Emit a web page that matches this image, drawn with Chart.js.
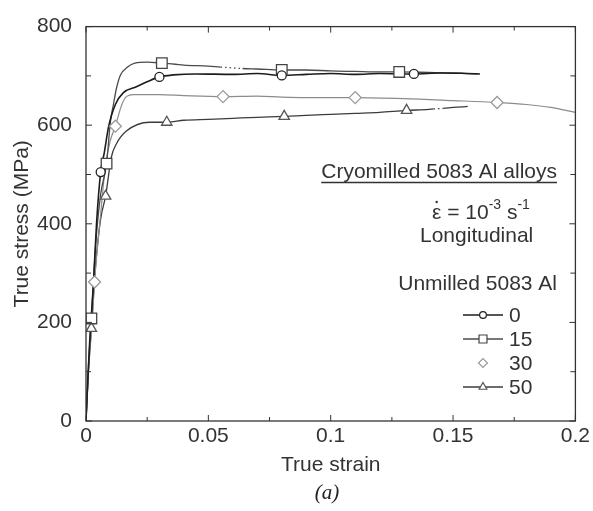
<!DOCTYPE html>
<html><head><meta charset="utf-8">
<script src="https://cdn.jsdelivr.net/npm/chart.js@4/dist/chart.umd.min.js"></script>
<style>html,body{margin:0;padding:0;background:#fff}#wrap{width:593px;height:511px;position:relative}</style>
</head><body><div id="wrap"><canvas id="c" width="593" height="511"></canvas></div>
<script>
// ---- tick values ----
const xTicks = [0, 0.05, 0.1, 0.15, 0.2];
const xMinor = [0.025, 0.075, 0.125, 0.175];
const yTicks = [0, 200, 400, 600, 800];
const yMinor = [100, 300, 500, 700];

// ---- series names (legend) ----
const seriesNames = ['0', '15', '30', '50'];
const legendTitle = 'Unmilled 5083 Al';

// ---- curve data: true strain / true stress (MPa) ----
const strain0 = [0, 0.0008, 0.0015, 0.002, 0.003, 0.0043, 0.006, 0.0075, 0.0092, 0.012, 0.0153, 0.0206, 0.025, 0.030, 0.0357, 0.045, 0.06, 0.07, 0.08, 0.09, 0.1, 0.11, 0.12, 0.134, 0.145, 0.155, 0.161];
const stress0 = [0, 90, 160, 200, 276, 400, 505, 545, 596, 642, 666, 678, 688, 698, 702, 704, 703, 705, 701, 703, 705, 703, 705, 704, 706, 705, 704];

const strain15 = [0, 0.001, 0.0022, 0.004, 0.006, 0.0084, 0.010, 0.0112, 0.0125, 0.0141, 0.017, 0.020, 0.025, 0.031, 0.040, 0.050, 0.055, 0.064, 0.070, 0.080, 0.090, 0.100, 0.110, 0.120, 0.128, 0.140, 0.150, 0.160];
const stress15 = [0, 110, 208, 360, 460, 522, 608, 642, 676, 702, 718, 726, 728, 726, 722, 720, 718, 715, 714, 712, 712, 710, 709, 708, 708, 707, 706, 704];
const dashed15 = [0.055, 0.064];

const strain30 = [0, 0.001, 0.0025, 0.0035, 0.006, 0.008, 0.010, 0.012, 0.0145, 0.0165, 0.0194, 0.030, 0.040, 0.056, 0.070, 0.080, 0.090, 0.110, 0.130, 0.150, 0.168, 0.180, 0.190, 0.200];
const stress30 = [0, 100, 200, 282, 420, 520, 570, 598, 640, 658, 662, 662, 660, 658, 659, 657, 656, 656, 654, 650, 646, 642, 636, 626];

const strain50 = [0, 0.001, 0.0022, 0.004, 0.006, 0.008, 0.0104, 0.0124, 0.0165, 0.026, 0.033, 0.040, 0.050, 0.060, 0.070, 0.081, 0.090, 0.100, 0.110, 0.120, 0.131, 0.140, 0.142, 0.146, 0.150, 0.156];
const stress50 = [0, 100, 188, 320, 410, 456, 536, 562, 588, 606, 606, 610, 612, 614, 616, 618, 620, 622, 624, 626, 630, 632, 633, 634, 636, 638];
const dashed50 = [0.142, 0.146];

// ---- marker positions ----
const mark0x = [0.006, 0.030, 0.080, 0.134];
const mark0y = [505, 698, 701, 704];
const mark15x = [0.0022, 0.0084, 0.031, 0.080, 0.128];
const mark15y = [208, 522, 726, 712, 708];
const mark30x = [0.0035, 0.012, 0.056, 0.110, 0.168];
const mark30y = [282, 598, 658, 656, 646];
const mark50x = [0.0022, 0.008, 0.033, 0.081, 0.131];
const mark50y = [188, 456, 606, 618, 630];

// ---- styling ----
const lineColors = ['#1c1c1c', '#4a4a4a', '#8c8c8c', '#3c3c3c'];
const markColors = ['#222222', '#444444', '#9a9a9a', '#555555'];
const markStyles = ['circle', 'rect', 'rectRot', 'triangle'];
const markRadii = [4.5, 7.5, 6, 6];
const lineWidths = [1.6, 1.3, 1.2, 1.3];
const legendShowLine = [true, true, false, true];
const dashRanges = [null, dashed15, null, dashed50];

const curves = [[strain0, stress0], [strain15, stress15], [strain30, stress30], [strain50, stress50]];
const marks = [[mark0x, mark0y], [mark15x, mark15y], [mark30x, mark30y], [mark50x, mark50y]];
const zip = (xs, ys) => xs.map((x, i) => ({x: x, y: ys[i]}));

const datasets = [];
curves.forEach((c, i) => {
  const dr = dashRanges[i];
  datasets.push({
    label: seriesNames[i], data: zip(c[0], c[1]), showLine: true,
    borderColor: lineColors[i], borderWidth: lineWidths[i], pointRadius: 0, tension: 0.25,
    cubicInterpolationMode: 'monotone', order: 2,
    segment: {
      borderDash: sc => (dr && sc.p0.parsed.x >= dr[0] - 1e-9 && sc.p1.parsed.x <= dr[1] + 1e-9) ? [1.5, 3] : undefined
    }
  });
});
marks.forEach((m, i) => {
  datasets.push({
    label: seriesNames[i] + ' markers', data: zip(m[0], m[1]), showLine: false,
    pointStyle: markStyles[i], pointRadius: markRadii[i], pointBorderColor: markColors[i],
    pointBackgroundColor: '#ffffff', pointBorderWidth: 1.3, order: 1
  });
});

const FONT = 'Liberation Sans, Arial, sans-serif';
const TXT = '#333333';

const decorations = {
  id: 'decorations',
  afterDraw(chart) {
    const {ctx, chartArea: a, scales: {x, y}} = chart;
    ctx.save();
    // frame
    ctx.strokeStyle = '#333';
    ctx.lineWidth = 1.3;
    ctx.strokeRect(a.left, a.top, a.right - a.left, a.bottom - a.top);
    // inward ticks
    const tick = (vals, len) => {
      vals.forEach(v => {
        const px = x.getPixelForValue(v);
        ctx.beginPath();
        ctx.moveTo(px, a.bottom); ctx.lineTo(px, a.bottom - len);
        ctx.moveTo(px, a.top); ctx.lineTo(px, a.top + len);
        ctx.stroke();
      });
    };
    const ytick = (vals, len) => {
      vals.forEach(v => {
        const py = y.getPixelForValue(v);
        ctx.beginPath();
        ctx.moveTo(a.left, py); ctx.lineTo(a.left + len, py);
        ctx.moveTo(a.right, py); ctx.lineTo(a.right - len, py);
        ctx.stroke();
      });
    };
    ctx.lineWidth = 1;
    tick(xTicks, 6); tick(xMinor, 4);
    ytick(yTicks, 6); ytick(yMinor, 5);

    // annotations
    ctx.fillStyle = TXT;
    ctx.textBaseline = 'middle';
    ctx.font = '21px ' + FONT;
    ctx.textAlign = 'right';
    ctx.fillText('Cryomilled 5083 Al alloys', 557, 172);
    const w = ctx.measureText('Cryomilled 5083 Al alloys').width;
    ctx.beginPath();
    ctx.strokeStyle = TXT; ctx.lineWidth = 1.3;
    ctx.moveTo(557 - w, 182.5); ctx.lineTo(557, 182.5); ctx.stroke();

    // strain rate line with superscripts (epsilon with a dot above)
    ctx.textAlign = 'left';
    let cx = 432;
    const seg = (t, size, dy) => {
      ctx.font = size + 'px ' + FONT;
      ctx.fillText(t, cx, 213 + dy);
      const ww = ctx.measureText(t).width;
      const start = cx;
      cx += ww;
      return [start, ww];
    };
    const eps = seg('\u03B5', 21, 0);
    ctx.beginPath();
    ctx.arc(eps[0] + eps[1] / 2, 202, 1.2, 0, Math.PI * 2);
    ctx.fill();
    seg(' = 10', 21, 0);
    seg('-3', 14, -8);
    seg(' s', 21, 0);
    seg('-1', 14, -8);

    ctx.font = '21px ' + FONT;
    ctx.fillText('Longitudinal', 420, 236);

    // legend
    ctx.textAlign = 'right';
    ctx.fillText(legendTitle, 557, 284);
    const rows = [315, 339, 363, 387];
    seriesNames.forEach((n, i) => {
      const ry = rows[i];
      ctx.strokeStyle = lineColors[i];
      ctx.lineWidth = lineWidths[i];
      if (legendShowLine[i]) {
        ctx.beginPath(); ctx.moveTo(463, ry); ctx.lineTo(503, ry); ctx.stroke();
      }
      ctx.fillStyle = '#fff';
      ctx.strokeStyle = markColors[i];
      ctx.lineWidth = 1.2;
      Chart.helpers.drawPoint(ctx, {pointStyle: markStyles[i], radius: markRadii[i] * 0.75, rotation: 0, borderWidth: 1.2}, 483, ry);
      ctx.fillStyle = TXT;
      ctx.textAlign = 'left';
      ctx.font = '21px ' + FONT;
      ctx.fillText(n, 509, ry + 1);
    });

    // panel label
    ctx.font = 'italic 21px Liberation Serif, Times New Roman, serif';
    ctx.textAlign = 'center';
    ctx.fillStyle = '#222';
    ctx.fillText('(a)', 327, 493);
    ctx.restore();
  }
};

new Chart(document.getElementById('c'), {
  type: 'scatter',
  data: {datasets: datasets},
  options: {
    responsive: false, animation: false, devicePixelRatio: 1,
    layout: {padding: {top: 22, right: 15, bottom: 0, left: 0}},
    plugins: {legend: {display: false}, tooltip: {enabled: false}},
    scales: {
      x: {
        type: 'linear', min: 0, max: 0.2,
        afterBuildTicks: s => { s.ticks = xTicks.map(v => ({value: v})); },
        afterFit: s => { s.height = 90; },
        grid: {display: false, drawTicks: false},
        border: {display: false},
        ticks: {padding: 3, color: TXT, font: {family: FONT, size: 21}, callback: v => String(v)},
        title: {display: true, text: 'True strain', color: TXT, font: {family: FONT, size: 21}, padding: {top: 0, bottom: 33}}
      },
      y: {
        type: 'linear', min: 0, max: 800,
        afterBuildTicks: s => { s.ticks = yTicks.map(v => ({value: v})); },
        afterFit: s => { s.width = 86; },
        grid: {display: false, drawTicks: false},
        border: {display: false},
        ticks: {padding: 14, color: TXT, font: {family: FONT, size: 21}},
        title: {display: true, text: 'True stress (MPa)', color: TXT, font: {family: FONT, size: 21}, padding: {top: 10, bottom: 0}}
      }
    }
  },
  plugins: [decorations]
});
</script>
</body></html>
